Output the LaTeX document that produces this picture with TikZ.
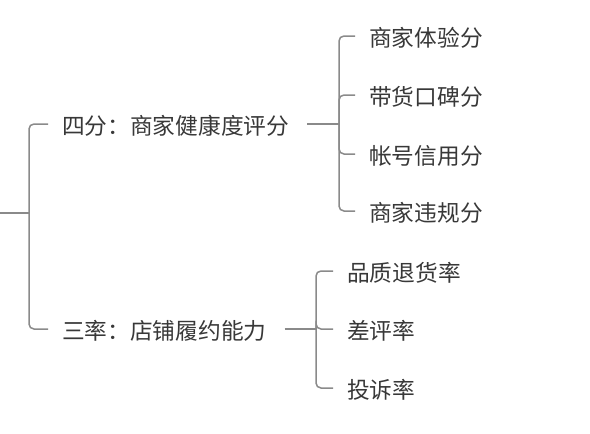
\documentclass[tikz,border=0pt]{standalone}
\usepackage{fontspec}
\setmainfont{Noto Sans CJK SC}

\definecolor{inkgray}{HTML}{383838}
\definecolor{wiregray}{HTML}{8A8A8A}

\tikzset{
  link/.style={draw=wiregray, line width=1.5pt, rounded corners=5pt},
  topic/.style={anchor=west, inner sep=0pt, text=inkgray,
    font=\fontsize{22.7}{23}\selectfont},
}

\begin{document}
\begin{tikzpicture}[x=1pt, y=-1pt]
    \useasboundingbox (0,0) rectangle (590,434);

    % Root stub and first fork
    \coordinate (root) at (0,213);
    \coordinate (fork) at (29,213);

    % Level one
    \node[topic] (four) at (62,126) {四分：商家健康度评分};
    \node[topic] (three) at (62,331) {三率：店铺履约能力};

    % Level two, scores
    \coordinate (forkA) at (339,124);
    \node[topic] (s1) at (369,38) {商家体验分};
    \node[topic] (s2) at (369,97) {带货口碑分};
    \node[topic] (s3) at (369,156) {帐号信用分};
    \node[topic] (s4) at (369,213) {商家违规分};

    % Level two, rates
    \coordinate (forkB) at (316,329);
    \node[topic] (r1) at (347,273) {品质退货率};
    \node[topic] (r2) at (347,331) {差评率};
    \node[topic] (r3) at (347,390) {投诉率};

    % Connectors
    \draw[link] (root) -- (fork);
    \foreach \t in {four, three}
        \draw[link] (fork) |- ([xshift=-14pt, yshift=2pt]\t.west);

    \draw[link] ([xshift=18pt, yshift=2pt]four.east) -- (forkA);
    \foreach \s in {s1, s2, s3, s4}
        \draw[link] (forkA) |- ([xshift=-14pt, yshift=2pt]\s.west);

    \draw[link] ([xshift=18pt, yshift=2pt]three.east) -- (forkB);
    \foreach \r in {r1, r2, r3}
        \draw[link] (forkB) |- ([xshift=-14pt, yshift=2pt]\r.west);

\end{tikzpicture}
\end{document}
